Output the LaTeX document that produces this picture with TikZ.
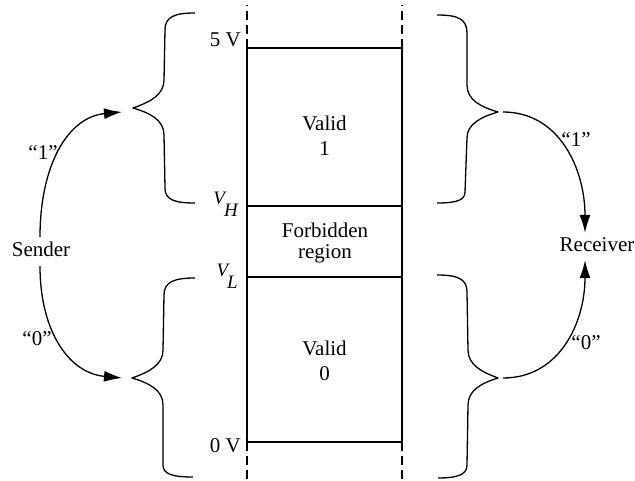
\documentclass[tikz,border=0pt]{standalone}
\usepackage{fontspec}
\setmainfont{Liberation Serif}
\usetikzlibrary{arrows.meta}
\begin{document}
\begin{tikzpicture}[x=1pt,y=-1pt,
  every node/.style={inner sep=0pt, font=\fontsize{21}{25}\selectfont},
  frame/.style={line width=1.3pt},
  dashline/.style={line width=1.3pt, dash pattern=on 9pt off 5pt},
  bracepath/.style={line width=1.3pt, line join=round},
  sig/.style={line width=1.3pt, -{Latex[length=18pt,width=11pt]}},
  lab/.style={font=\fontsize{21}{25}\selectfont},
  vlab/.style={font=\fontsize{19}{22}\selectfont\itshape, anchor=base east}]
\useasboundingbox (0,0) rectangle (635,481);
% frame coordinates
\coordinate (L5) at (247,48);  \coordinate (R5) at (402,48);
\coordinate (LH) at (247,206); \coordinate (RH) at (402,206);
\coordinate (LL) at (247,277); \coordinate (RL) at (402,277);
\coordinate (L0) at (247,442); \coordinate (R0) at (402,442);
\coordinate (Lt) at (247,5);   \coordinate (Rt) at (402,5);
\coordinate (Lb) at (247,479); \coordinate (Rb) at (402,479);
\draw[frame] (L5) -- (L0);
\draw[frame] (R5) -- (R0);
\draw[frame] (L5) -- (R5);
\draw[frame] (LH) -- (RH);
\draw[frame] (LL) -- (RL);
\draw[frame] (L0) -- (R0);
\draw[dashline] (L5) -- (Lt);
\draw[dashline] (R5) -- (Rt);
\draw[dashline] (L0) -- (Lb);
\draw[dashline] (R0) -- (Rb);
% voltage labels
\node[anchor=base east] (v5) at (241,47) {5 V};
\node[anchor=base east] (v0) at (241,452) {0 V};
\node[vlab] (vh) at (238,205) {V\kern-1pt\raisebox{-12pt}{H}};
\node[vlab] (vl) at (238,277) {V\kern-1pt\raisebox{-12pt}{L}};
% region labels
\node[align=center, font=\fontsize{21}{25}\selectfont] (valid1) at (324.5,135.4) {Valid\\1};
\node[align=center, font=\fontsize{21}{21}\selectfont] (forb) at (325,242.6) {Forbidden\\region};
\node[align=center, font=\fontsize{21}{25}\selectfont] (valid0) at (324.5,360.4) {Valid\\0};
% braces
\coordinate (lt1) at (133,108);
\coordinate (lt0) at (132,378);
\coordinate (rt1) at (498,112);
\coordinate (rt0) at (498,378);
\draw[bracepath] (195,13) .. controls (174,13) and (165,17) .. (165,30)
  -- (164,80) .. controls (164,95) and (150,102) .. (lt1)
  .. controls (150,113) and (164,120) .. (164,135)
  -- (165,188) .. controls (165,200) and (175,203) .. (195,203);
\draw[bracepath] (195,278) .. controls (174,278) and (164,282) .. (164,295)
  -- (163,350) .. controls (163,365) and (149,372) .. (lt0)
  .. controls (149,383) and (163,390) .. (163,405)
  -- (163,465) .. controls (163,474) and (172,477) .. (193,477);
\draw[bracepath] (437,15) .. controls (458,15) and (467,19) .. (467,33)
  -- (467,85) .. controls (467,100) and (481,107) .. (rt1)
  .. controls (481,117) and (467,124) .. (467,138)
  -- (465,192) .. controls (465,200) and (457,203) .. (437,203);
\draw[bracepath] (437,275) .. controls (458,275) and (467,279) .. (467,292)
  -- (468,350) .. controls (468,365) and (482,372) .. (rt0)
  .. controls (482,383) and (468,390) .. (468,405)
  -- (467,465) .. controls (467,474) and (459,478) .. (438,478);
% sender and receiver
\node[text height=14pt, text depth=3pt, inner ysep=6pt] (sender) at (41,251.5) {Sender};
\node[text height=14pt, text depth=3pt, inner ysep=5pt] (receiver) at (597,246.5) {Receiver};
\coordinate (s1) at (122,112);
\coordinate (s0) at (122,378);
\draw[sig] ([xshift=-1pt]sender.north) .. controls (40,165) and (68,117) .. (s1);
\draw[sig] ([xshift=-1pt]sender.south) .. controls (40,330) and (68,373) .. (s0);
\draw[sig] ([xshift=5pt]rt1) .. controls (560,112) and (585,170) .. ([xshift=-12pt]receiver.north);
\draw[sig] ([xshift=5pt]rt0) .. controls (560,378) and (585,322) .. ([xshift=-12pt]receiver.south);
% signal labels
\node[lab] (q1l) at (43,153) {“1”};
\node[lab] (q0l) at (37,339) {“0”};
\node[lab] (q1r) at (576,140) {“1”};
\node[lab] (q0r) at (586,343) {“0”};
\end{tikzpicture}
\end{document}
